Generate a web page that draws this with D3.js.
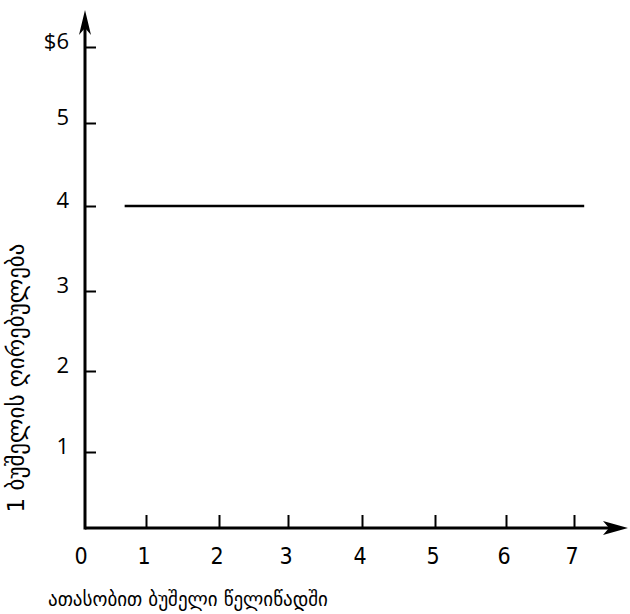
<!DOCTYPE html>
<html><head><meta charset="utf-8">
<script src="https://cdn.jsdelivr.net/npm/d3@7"></script>
<style>body{margin:0;background:#fff}</style>
</head><body>
<svg id="c" width="630" height="614"></svg>
<script>
const xTicks = [1, 2, 3, 4, 5, 6, 7];
const xTickLabels = ["1", "2", "3", "4", "5", "6", "7"];
const yTicks = [1, 2, 3, 4, 5, 6];
const yTickLabels = ["1", "2", "3", "4", "5", "$6"];
const supplyX = [0.65, 7.15];
const supplyY = [4, 4];
const xTitle = "ათასობით ბუშელი წელიწადში";
const yTitle = "1 ბუშელის ღირებულება";

const svg = d3.select("#c");
const x = d3.scaleLinear().domain([0,1,2,3,4,5,6,7]).range([85,146,219,288,362,435,506,574]);
const y = d3.scaleLinear().domain([0,1,2,3,4,5,6]).range([528,452,371,291,206,123,47]);

const g = svg.append("g");
g.append("line").attr("x1", x(0)).attr("x2", 612).attr("y1", y(0)).attr("y2", y(0))
  .attr("stroke","#000").attr("stroke-width",3);
g.append("line").attr("x1", x(0)).attr("x2", x(0)).attr("y1", y(0)+1.5).attr("y2", 24)
  .attr("stroke","#000").attr("stroke-width",3);
g.append("path").attr("d", `M${x(0)},10 L${x(0)-6},35 L${x(0)},28 L${x(0)+6},35 Z`).attr("fill","#000");
g.append("path").attr("d", `M628,${y(0)} L603,${y(0)-7} L609,${y(0)} L603,${y(0)+7} Z`).attr("fill","#000");

const xAxis = d3.axisTop(x).tickValues(xTicks).tickSize(13).tickFormat("");
const xa = g.append("g").attr("transform", `translate(0,${y(0)})`).call(xAxis);
xa.select(".domain").remove();
xa.selectAll(".tick line").attr("stroke","#000").attr("stroke-width",2);
g.selectAll(".xl").data([0].concat(xTicks)).join("text")
  .attr("x", (d) => x(d) - (d===0?4:2)).attr("y", 564)
  .attr("text-anchor","middle")
  .style("font-family","'Liberation Sans Narrow', 'DejaVu Sans Condensed', sans-serif")
  .style("font-size", "23px").attr("fill","#000")
  .text((d,i) => i===0 ? "0" : xTickLabels[i-1]);

const yAxis = d3.axisRight(y).tickValues(yTicks).tickSize(11).tickFormat("");
const ya = g.append("g").attr("transform", `translate(${x(0)},0)`).call(yAxis);
ya.select(".domain").remove();
ya.selectAll(".tick line").attr("stroke","#000").attr("stroke-width",2);
g.selectAll(".yl").data(yTicks).join("text")
  .attr("x", 69).attr("y", d => y(d) + 2)
  .attr("text-anchor","end")
  .style("font-family","'Open Sans', 'Noto Sans', sans-serif")
  .style("font-size", "22px").attr("fill","#000")
  .text((d,i) => yTickLabels[i]);

const line = d3.line().x((d,i)=>x(supplyX[i])).y((d,i)=>y(supplyY[i]));
g.append("path").datum(supplyX).attr("d", line).attr("stroke","#000").attr("stroke-width",2.5).attr("fill","none");

g.append("text").attr("x", 48).attr("y", 606)
  .style("font-family","'DejaVu Sans', sans-serif")
  .style("font-size", "19px").attr("fill","#000").text(xTitle);
g.append("text").attr("transform","translate(24,378) rotate(-90)").attr("text-anchor","middle")
  .style("font-family","'DejaVu Sans', sans-serif").style("font-size", "23px").attr("fill","#000").text(yTitle);
</script>
</body></html>
